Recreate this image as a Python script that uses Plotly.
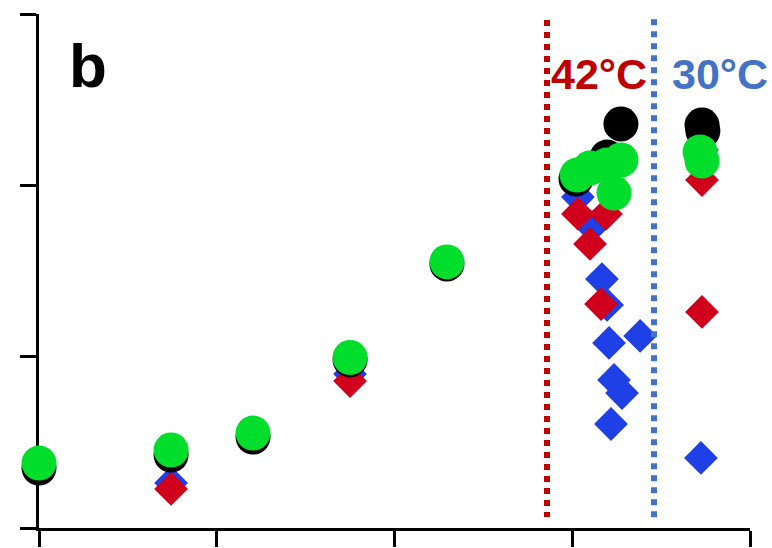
import plotly.graph_objects as go

# Black circles
black_x = [0.0, 0.743, 1.204, 1.75, 2.295, 3.274, 3.196, 3.021, 3.730, 3.735]
black_y = [0.350, 0.426, 0.531, 0.981, 1.541, 2.358, 2.165, 2.037, 2.352, 2.317]

# Green circles
green_x = [0.0, 0.743, 1.204, 1.75, 2.295, 3.027, 3.100, 3.196, 3.274, 3.235, 3.719, 3.730]
green_y = [0.379, 0.455, 0.554, 0.995, 1.553, 2.060, 2.101, 2.119, 2.148, 1.955, 2.195, 2.142]

# Blue diamonds
blue_x = [0.743, 1.75, 3.032, 3.111, 3.167, 3.196, 3.207, 3.382, 3.235, 3.280, 3.218, 3.730, 3.724]
blue_y = [0.263, 0.899, 1.932, 1.757, 1.453, 1.302, 1.080, 1.121, 0.864, 0.788, 0.607, 2.206, 0.409]

# Red diamonds
red_x = [0.743, 1.75, 3.032, 3.190, 3.100, 3.162, 3.730, 3.730]
red_y = [0.228, 0.858, 1.833, 1.833, 1.658, 1.307, 2.031, 1.261]

# Temperature dividers
divider_x = [2.858, 3.46]
divider_labels = ["42°C", "30°C"]
divider_label_x = [3.15, 3.83]

x_ticks = [0, 1, 2, 3, 4]
y_ticks = [0, 1, 2, 3]

fig = go.Figure()

def add_markers(xs, ys, symbol, size, color):
    fig.add_trace(go.Scatter(
        x=xs, y=ys, mode="markers", cliponaxis=False, showlegend=False,
        marker=dict(symbol=symbol, size=size, color=color, line=dict(width=0)),
    ))

add_markers(blue_x, blue_y, "diamond", 26, "#1F40E6")
add_markers(red_x, red_y, "diamond", 26, "#D0001C")
add_markers(black_x, black_y, "circle", 35, "#000000")
add_markers(green_x, green_y, "circle", 35, "#00DD2A")

fig.add_shape(type="line", x0=divider_x[0], x1=divider_x[0], y0=2.965, y1=0.064,
              xref="x", yref="y", line=dict(color="#C00000", width=6, dash="dot"))
fig.add_shape(type="line", x0=divider_x[1], x1=divider_x[1], y0=0.0625, y1=3.0,
              xref="x", yref="y", line=dict(color="#4472C4", width=6, dash="dot"))

label_colors = ["#C00000", "#4472C4"]
for lx, txt, col in zip(divider_label_x, divider_labels, label_colors):
    fig.add_annotation(x=lx, y=2.65, text=f"<b>{txt}</b>", showarrow=False,
                       xanchor="center", yanchor="middle",
                       font=dict(family="Liberation Sans, Arial, sans-serif", size=43, color=col))

fig.add_annotation(x=0.276, y=2.70, text="<b>b</b>", showarrow=False,
                   xanchor="center", yanchor="middle",
                   font=dict(family="Liberation Sans, Arial, sans-serif", size=62, color="#000000"))

axis_common = dict(showline=True, linecolor="#000000", linewidth=2.5,
                   ticks="outside", ticklen=16, tickwidth=2.5, tickcolor="#000000",
                   showticklabels=False, showgrid=False, zeroline=False,
                   layer="below traces", automargin=False)

fig.update_xaxes(range=[0, 4], tickvals=x_ticks, **axis_common)
fig.update_yaxes(range=[0, 3], tickvals=y_ticks, **axis_common)

fig.update_layout(
    width=772, height=548,
    margin=dict(l=39, r=22, t=14, b=20, autoexpand=False),
    plot_bgcolor="white", paper_bgcolor="white",
)

fig.write_html("out.html")
